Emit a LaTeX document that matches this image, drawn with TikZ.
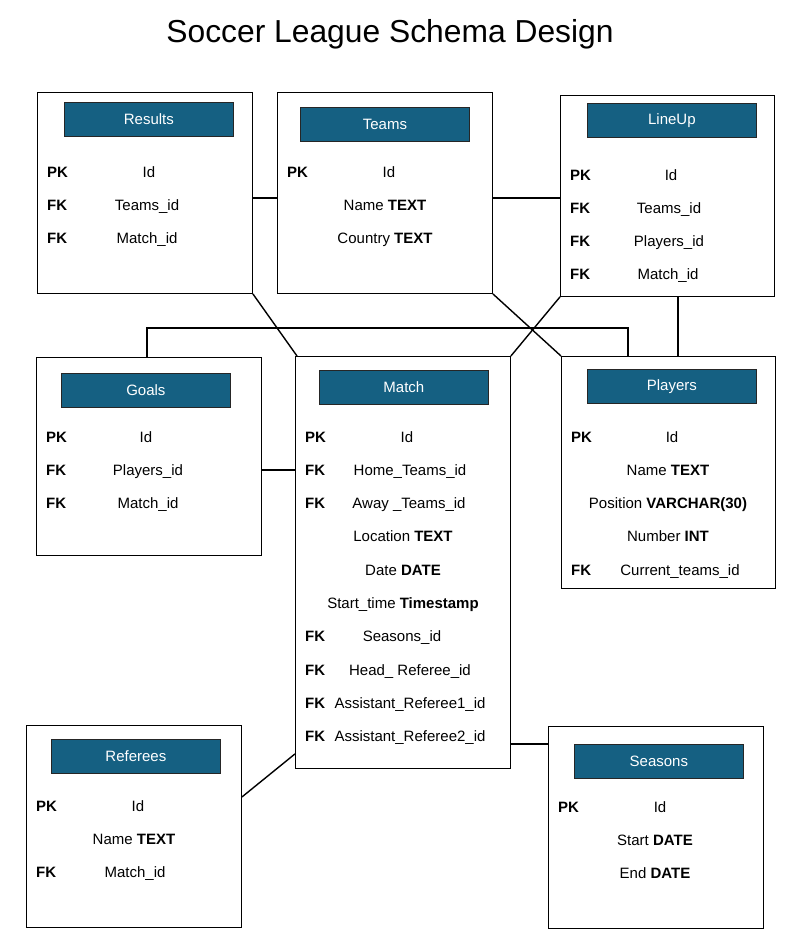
\documentclass[tikz,border=0pt]{standalone}
\usepackage{fontspec}
\setmainfont{Liberation Sans}
\definecolor{hdrblue}{HTML}{156082}
\begin{document}
\begin{tikzpicture}[x=1pt,y=-1pt,
 tbl/.style={draw=black, line width=0.9pt, anchor=north west, inner sep=0pt},
 hdr/.style={draw=black!85, fill=hdrblue, text=white, line width=0.8pt, anchor=north west, inner sep=0pt, minimum width=169pt, minimum height=34pt, font=\fontsize{15}{17}\selectfont},
 key/.style={anchor=west, font=\fontsize{15}{17}\selectfont\bfseries, inner sep=0pt, text height=10pt, text depth=3pt, yshift=-2pt},
 fld/.style={font=\fontsize{15}{17}\selectfont, inner sep=0pt, text height=10pt, text depth=3pt, yshift=-2pt},
 conn/.style={line width=1.4pt}]
\useasboundingbox (0,0) rectangle (793,938);

\node[font=\fontsize{31.8}{37}\selectfont] (title) at (390,34) {Soccer League Schema Design};

% Results
\node[tbl, minimum width=215pt, minimum height=201pt] (results) at (37,92) {};
\node[hdr] (resultsh) at (64,102) {Results};
\node[key] (r1k) at (47,172) {PK}; \node[fld] (r1) at (149,172) {Id};
\node[key] (r2k) at (47,205) {FK}; \node[fld] (r2) at (147,205) {Teams\_id};
\node[key] (r3k) at (47,238) {FK}; \node[fld] (r3) at (147,238) {Match\_id};

% Teams
\node[tbl, minimum width=215pt, minimum height=201pt] (teams) at (277,92) {};
\node[hdr] (teamsh) at (300,107) {Teams};
\node[key] (t1k) at (287,172) {PK}; \node[fld] (t1) at (389,172) {Id};
\node[fld] (t2) at (385,205) {Name \textbf{TEXT}};
\node[fld] (t3) at (385,238) {Country \textbf{TEXT}};

% LineUp
\node[tbl, minimum width=214pt, minimum height=201pt] (lineup) at (560,95) {};
\node[hdr] (lineuph) at (587,103) {LineUp};
\node[key] (l1k) at (570,175) {PK}; \node[fld] (l1) at (671,175) {Id};
\node[key] (l2k) at (570,208) {FK}; \node[fld] (l2) at (669,208) {Teams\_id};
\node[key] (l3k) at (570,241) {FK}; \node[fld] (l3) at (669,241) {Players\_id};
\node[key] (l4k) at (570,274) {FK}; \node[fld] (l4) at (668,274) {Match\_id};

% Goals
\node[tbl, minimum width=225pt, minimum height=198pt] (goals) at (36,357) {};
\node[hdr] (goalsh) at (61,373) {Goals};
\node[key] (g1k) at (46,437) {PK}; \node[fld] (g1) at (146,437) {Id};
\node[key] (g2k) at (46,470) {FK}; \node[fld] (g2) at (148,470) {Players\_id};
\node[key] (g3k) at (46,503) {FK}; \node[fld] (g3) at (148,503) {Match\_id};

% Match
\node[tbl, minimum width=215pt, minimum height=412pt] (match) at (295,356) {};
\node[hdr] (matchh) at (319,370) {Match};
\node[key] (m1k) at (305,437) {PK}; \node[fld] (m1) at (407,437) {Id};
\node[key] (m2k) at (305,470) {FK}; \node[fld] (m2) at (410,470) {Home\_Teams\_id};
\node[key] (m3k) at (305,503) {FK}; \node[fld] (m3) at (409,503) {Away \_Teams\_id};
\node[fld] (m4) at (403,536) {Location \textbf{TEXT}};
\node[fld] (m5) at (403,570) {Date \textbf{DATE}};
\node[fld] (m6) at (403,603) {Start\_time \textbf{Timestamp}};
\node[key] (m7k) at (305,636) {FK}; \node[fld] (m7) at (402,636) {Seasons\_id};
\node[key] (m8k) at (305,670) {FK}; \node[fld] (m8) at (410,670) {Head\_ Referee\_id};
\node[key] (m9k) at (305,703) {FK}; \node[fld] (m9) at (410,703) {Assistant\_Referee1\_id};
\node[key] (m10k) at (305,736) {FK}; \node[fld] (m10) at (410,736) {Assistant\_Referee2\_id};

% Players
\node[tbl, minimum width=214pt, minimum height=232pt] (players) at (561,356) {};
\node[hdr] (playersh) at (587,369) {Players};
\node[key] (p1k) at (571,437) {PK}; \node[fld] (p1) at (672,437) {Id};
\node[fld] (p2) at (668,470) {Name \textbf{TEXT}};
\node[fld] (p3) at (668,503) {Position \textbf{VARCHAR(30)}};
\node[fld] (p4) at (668,536) {Number \textbf{INT}};
\node[key] (p5k) at (571,570) {FK}; \node[fld] (p5) at (680,570) {Current\_teams\_id};

% Referees
\node[tbl, minimum width=215pt, minimum height=202pt] (referees) at (26,725) {};
\node[hdr] (refereesh) at (51,739) {Referees};
\node[key] (f1k) at (36,806) {PK}; \node[fld] (f1) at (138,806) {Id};
\node[fld] (f2) at (134,839) {Name \textbf{TEXT}};
\node[key] (f3k) at (36,872) {FK}; \node[fld] (f3) at (135,872) {Match\_id};

% Seasons
\node[tbl, minimum width=215pt, minimum height=202pt] (seasons) at (548,726) {};
\node[hdr] (seasonsh) at (574,744) {Seasons};
\node[key] (s1k) at (558,807) {PK}; \node[fld] (s1) at (660,807) {Id};
\node[fld] (s2) at (655,840) {Start \textbf{DATE}};
\node[fld] (s3) at (655,873) {End \textbf{DATE}};

% connectors
\coordinate (c1) at ([yshift=-106pt]results.north east);
\draw[conn] (c1) -- (c1 -| teams.west);
\coordinate (c2) at ([yshift=-106pt]teams.north east);
\draw[conn] (c2) -- (c2 -| lineup.west);
\draw[conn] (results.south east) -- ([xshift=2pt]match.north west);
\draw[conn] (teams.south east) -- (players.north west);
\draw[conn] (lineup.south west) -- (match.north east);
\draw[conn] ([xshift=118pt]lineup.south west) -- ([xshift=117pt]players.north west);
\draw[conn] ([xshift=111pt]goals.north west) -- ++(0,29pt) -| ([xshift=67pt]players.north west);
\coordinate (c3) at ([yshift=-113pt]goals.north east);
\draw[conn] (c3) -- (c3 -| match.west);
\draw[conn] ([yshift=-72pt]referees.north east) -- ([yshift=15pt]match.south west);
\coordinate (c4) at ([yshift=25pt]match.south east);
\draw[conn] (c4) -- (c4 -| seasons.west);
\end{tikzpicture}
\end{document}
